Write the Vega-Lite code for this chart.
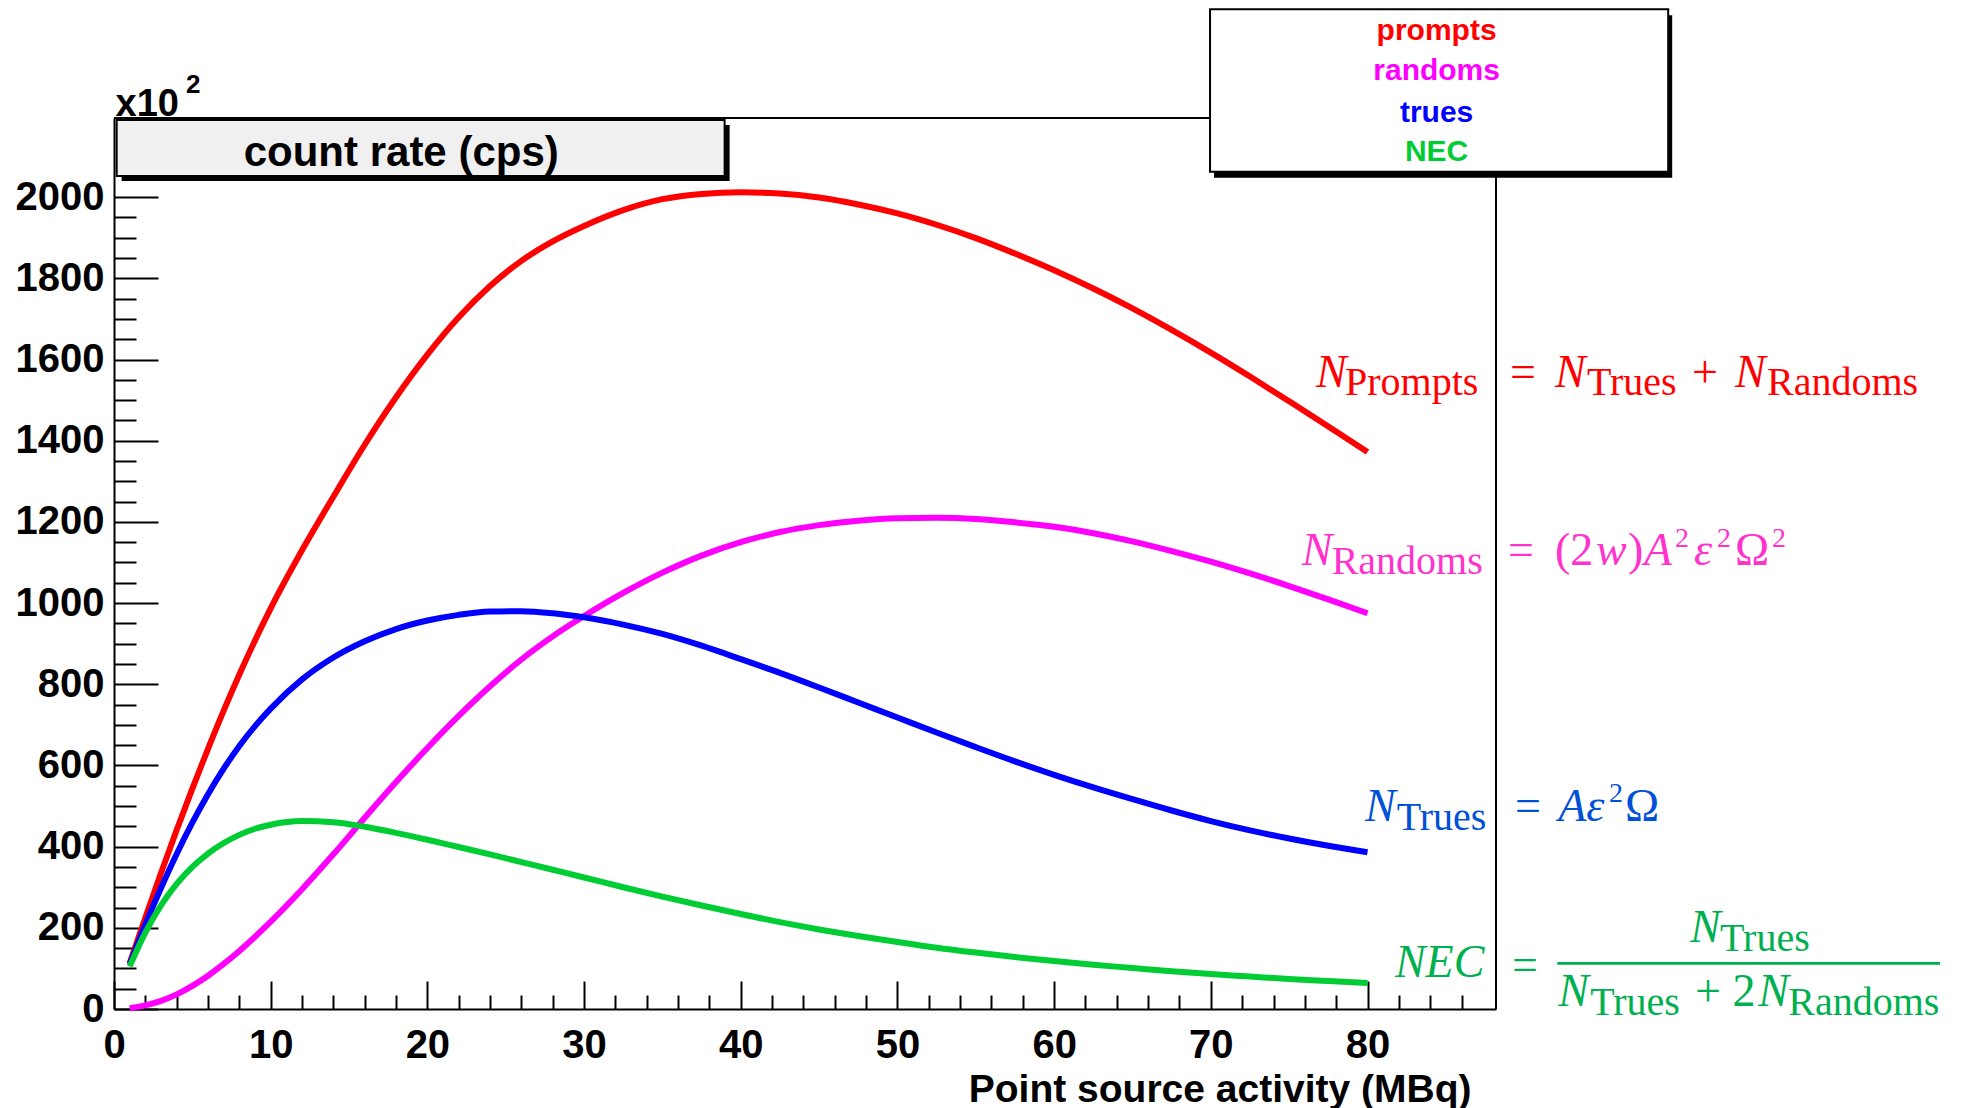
{
"$schema": "https://vega.github.io/schema/vega-lite/v6.json",
"width": 1382, "height": 891,
"autosize": {"type": "none"},
"padding": {"left": 114, "top": 118, "right": 470, "bottom": 99},
"background": "white",
"config": {"view": {"stroke": null}, "font": "Liberation Sans"},
"datasets": {
"curves": [
{"activity":1,"rate":113,"series":"prompts"},{"activity":2,"rate":225,"series":"prompts"},{"activity":3,"rate":335,"series":"prompts"},{"activity":4,"rate":441,"series":"prompts"},{"activity":5,"rate":543,"series":"prompts"},{"activity":6,"rate":641,"series":"prompts"},{"activity":7,"rate":735,"series":"prompts"},{"activity":8,"rate":824,"series":"prompts"},{"activity":9,"rate":908,"series":"prompts"},{"activity":10,"rate":987,"series":"prompts"},{"activity":12,"rate":1130,"series":"prompts"},{"activity":14,"rate":1262,"series":"prompts"},{"activity":16,"rate":1390,"series":"prompts"},{"activity":18,"rate":1507,"series":"prompts"},{"activity":20,"rate":1612,"series":"prompts"},{"activity":22,"rate":1704,"series":"prompts"},{"activity":24,"rate":1781,"series":"prompts"},{"activity":26,"rate":1843,"series":"prompts"},{"activity":28,"rate":1891,"series":"prompts"},{"activity":30,"rate":1929,"series":"prompts"},{"activity":32.5,"rate":1968,"series":"prompts"},{"activity":35,"rate":1995,"series":"prompts"},{"activity":37.5,"rate":2008,"series":"prompts"},{"activity":40,"rate":2012,"series":"prompts"},{"activity":42.5,"rate":2009,"series":"prompts"},{"activity":45,"rate":1999,"series":"prompts"},{"activity":47.5,"rate":1982,"series":"prompts"},{"activity":50,"rate":1960,"series":"prompts"},{"activity":52.5,"rate":1932,"series":"prompts"},{"activity":55,"rate":1899,"series":"prompts"},{"activity":57.5,"rate":1861,"series":"prompts"},{"activity":60,"rate":1820,"series":"prompts"},{"activity":62.5,"rate":1775,"series":"prompts"},{"activity":65,"rate":1726,"series":"prompts"},{"activity":67.5,"rate":1673,"series":"prompts"},{"activity":70,"rate":1617,"series":"prompts"},{"activity":72.5,"rate":1558,"series":"prompts"},{"activity":75,"rate":1497,"series":"prompts"},{"activity":77.5,"rate":1435,"series":"prompts"},{"activity":80,"rate":1372,"series":"prompts"},
{"activity":1,"rate":2,"series":"randoms"},{"activity":2,"rate":9,"series":"randoms"},{"activity":3,"rate":20,"series":"randoms"},{"activity":4,"rate":36,"series":"randoms"},{"activity":5,"rate":57,"series":"randoms"},{"activity":6,"rate":82,"series":"randoms"},{"activity":7,"rate":111,"series":"randoms"},{"activity":8,"rate":143,"series":"randoms"},{"activity":9,"rate":178,"series":"randoms"},{"activity":10,"rate":215,"series":"randoms"},{"activity":12,"rate":295,"series":"randoms"},{"activity":14,"rate":381,"series":"randoms"},{"activity":16,"rate":471,"series":"randoms"},{"activity":18,"rate":559,"series":"randoms"},{"activity":20,"rate":643,"series":"randoms"},{"activity":22,"rate":722,"series":"randoms"},{"activity":24,"rate":795,"series":"randoms"},{"activity":26,"rate":861,"series":"randoms"},{"activity":28,"rate":918,"series":"randoms"},{"activity":30,"rate":968,"series":"randoms"},{"activity":32.5,"rate":1025,"series":"randoms"},{"activity":35,"rate":1075,"series":"randoms"},{"activity":37.5,"rate":1117,"series":"randoms"},{"activity":40,"rate":1150,"series":"randoms"},{"activity":42.5,"rate":1175,"series":"randoms"},{"activity":45,"rate":1192,"series":"randoms"},{"activity":47.5,"rate":1203,"series":"randoms"},{"activity":50,"rate":1209,"series":"randoms"},{"activity":52.5,"rate":1210,"series":"randoms"},{"activity":55,"rate":1207,"series":"randoms"},{"activity":57.5,"rate":1199,"series":"randoms"},{"activity":60,"rate":1188,"series":"randoms"},{"activity":62.5,"rate":1172,"series":"randoms"},{"activity":65,"rate":1152,"series":"randoms"},{"activity":67.5,"rate":1128,"series":"randoms"},{"activity":70,"rate":1102,"series":"randoms"},{"activity":72.5,"rate":1073,"series":"randoms"},{"activity":75,"rate":1042,"series":"randoms"},{"activity":77.5,"rate":1009,"series":"randoms"},{"activity":80,"rate":975,"series":"randoms"},
{"activity":1,"rate":110,"series":"trues"},{"activity":2,"rate":208,"series":"trues"},{"activity":3,"rate":298,"series":"trues"},{"activity":4,"rate":382,"series":"trues"},{"activity":5,"rate":459,"series":"trues"},{"activity":6,"rate":529,"series":"trues"},{"activity":7,"rate":592,"series":"trues"},{"activity":8,"rate":648,"series":"trues"},{"activity":9,"rate":697,"series":"trues"},{"activity":10,"rate":740,"series":"trues"},{"activity":12,"rate":812,"series":"trues"},{"activity":14,"rate":866,"series":"trues"},{"activity":16,"rate":906,"series":"trues"},{"activity":18,"rate":936,"series":"trues"},{"activity":20,"rate":957,"series":"trues"},{"activity":22,"rate":971,"series":"trues"},{"activity":24,"rate":979,"series":"trues"},{"activity":26,"rate":980,"series":"trues"},{"activity":28,"rate":975,"series":"trues"},{"activity":30,"rate":965,"series":"trues"},{"activity":32.5,"rate":947,"series":"trues"},{"activity":35,"rate":924,"series":"trues"},{"activity":37.5,"rate":895,"series":"trues"},{"activity":40,"rate":862,"series":"trues"},{"activity":42.5,"rate":828,"series":"trues"},{"activity":45,"rate":792,"series":"trues"},{"activity":47.5,"rate":755,"series":"trues"},{"activity":50,"rate":718,"series":"trues"},{"activity":52.5,"rate":681,"series":"trues"},{"activity":55,"rate":645,"series":"trues"},{"activity":57.5,"rate":610,"series":"trues"},{"activity":60,"rate":577,"series":"trues"},{"activity":62.5,"rate":546,"series":"trues"},{"activity":65,"rate":517,"series":"trues"},{"activity":67.5,"rate":489,"series":"trues"},{"activity":70,"rate":463,"series":"trues"},{"activity":72.5,"rate":440,"series":"trues"},{"activity":75,"rate":420,"series":"trues"},{"activity":77.5,"rate":402,"series":"trues"},{"activity":80,"rate":386,"series":"trues"},
{"activity":1,"rate":105,"series":"NEC"},{"activity":2,"rate":188,"series":"NEC"},{"activity":3,"rate":255,"series":"NEC"},{"activity":4,"rate":308,"series":"NEC"},{"activity":5,"rate":350,"series":"NEC"},{"activity":6,"rate":383,"series":"NEC"},{"activity":7,"rate":409,"series":"NEC"},{"activity":8,"rate":429,"series":"NEC"},{"activity":9,"rate":444,"series":"NEC"},{"activity":10,"rate":454,"series":"NEC"},{"activity":12,"rate":463,"series":"NEC"},{"activity":14,"rate":460,"series":"NEC"},{"activity":16,"rate":449,"series":"NEC"},{"activity":18,"rate":434,"series":"NEC"},{"activity":20,"rate":417,"series":"NEC"},{"activity":22,"rate":399,"series":"NEC"},{"activity":24,"rate":381,"series":"NEC"},{"activity":26,"rate":362,"series":"NEC"},{"activity":28,"rate":343,"series":"NEC"},{"activity":30,"rate":324,"series":"NEC"},{"activity":32.5,"rate":300,"series":"NEC"},{"activity":35,"rate":277,"series":"NEC"},{"activity":37.5,"rate":255,"series":"NEC"},{"activity":40,"rate":234,"series":"NEC"},{"activity":42.5,"rate":214,"series":"NEC"},{"activity":45,"rate":196,"series":"NEC"},{"activity":47.5,"rate":180,"series":"NEC"},{"activity":50,"rate":165,"series":"NEC"},{"activity":52.5,"rate":151,"series":"NEC"},{"activity":55,"rate":139,"series":"NEC"},{"activity":57.5,"rate":128,"series":"NEC"},{"activity":60,"rate":118,"series":"NEC"},{"activity":62.5,"rate":109,"series":"NEC"},{"activity":65,"rate":101,"series":"NEC"},{"activity":67.5,"rate":93,"series":"NEC"},{"activity":70,"rate":86,"series":"NEC"},{"activity":72.5,"rate":80,"series":"NEC"},{"activity":75,"rate":74,"series":"NEC"},{"activity":77.5,"rate":69,"series":"NEC"},{"activity":80,"rate":64,"series":"NEC"}
]
},
"resolve": {"scale": {"x": "independent", "y": "independent"}, "axis": {"x": "independent", "y": "independent"}},
"layer": [
{"layer": [
{"data": {"name": "curves"},
 "mark": {"type": "line", "strokeWidth": 6, "interpolate": "monotone"},
 "encoding": {
  "x": {"field": "activity", "type": "quantitative", "scale": {"domain": [0, 88.2], "nice": false, "zero": false}, "axis": null},
  "y": {"field": "rate", "type": "quantitative", "scale": {"domain": [0, 2195], "nice": false, "zero": false}, "axis": null},
  "color": {"field": "series", "type": "nominal", "scale": {"domain": ["prompts", "randoms", "trues", "NEC"], "range": ["#ff0000", "#ff00ff", "#0000ff", "#00cc33"]}, "legend": null}
 }},
{"data": {"values": [{}]}, "mark": {"type": "rule", "color": "black", "strokeWidth": 2},
 "encoding": {"x": {"datum": 0, "type": "quantitative", "scale": {"domain": [0, 88.2], "nice": false, "zero": false}, "axis": null}, "x2": {"datum": 88.2}, "y": {"datum": 2195, "type": "quantitative", "scale": {"domain": [0, 2195], "nice": false, "zero": false}, "axis": null}}},
{"data": {"values": [{}]}, "mark": {"type": "rule", "color": "black", "strokeWidth": 2},
 "encoding": {"x": {"datum": 88.2, "type": "quantitative", "scale": {"domain": [0, 88.2], "nice": false, "zero": false}, "axis": null}, "y": {"datum": 0, "type": "quantitative", "scale": {"domain": [0, 2195], "nice": false, "zero": false}, "axis": null}, "y2": {"datum": 2195}}},
{"data": {"values": [{}]}, "mark": {"type": "rect", "fill": "black", "xOffset": 5, "x2Offset": 5, "yOffset": 5, "y2Offset": 5},
 "encoding": {"x": {"datum": 0.17, "type": "quantitative", "scale": {"domain": [0, 88.2], "nice": false, "zero": false}, "axis": null}, "x2": {"datum": 38.97}, "y": {"datum": 2052, "type": "quantitative", "scale": {"domain": [0, 2195], "nice": false, "zero": false}, "axis": null}, "y2": {"datum": 2190}}},
{"data": {"values": [{}]}, "mark": {"type": "rect", "fill": "#f0f0f0", "stroke": "black", "strokeWidth": 2},
 "encoding": {"x": {"datum": 0.17, "type": "quantitative", "scale": {"domain": [0, 88.2], "nice": false, "zero": false}, "axis": null}, "x2": {"datum": 38.97}, "y": {"datum": 2052, "type": "quantitative", "scale": {"domain": [0, 2195], "nice": false, "zero": false}, "axis": null}, "y2": {"datum": 2190}}},
{"data": {"values": [{}]}, "mark": {"type": "text", "font": "Liberation Sans", "fontWeight": "bold", "fontSize": 42, "align": "center", "baseline": "alphabetic", "color": "black"},
 "encoding": {"x": {"datum": 18.33, "type": "quantitative", "scale": {"domain": [0, 88.2], "nice": false, "zero": false}, "axis": null}, "y": {"datum": 2077, "type": "quantitative", "scale": {"domain": [0, 2195], "nice": false, "zero": false}, "axis": null}, "text": {"value": "count rate (cps)"}}},
{"data": {"values": [{}]}, "mark": {"type": "text", "font": "Liberation Sans", "fontWeight": "bold", "fontSize": 26, "align": "left", "baseline": "alphabetic", "color": "black"},
 "encoding": {"x": {"datum": 4.6, "type": "quantitative", "scale": {"domain": [0, 88.2], "nice": false, "zero": false}, "axis": null}, "y": {"datum": 2256, "type": "quantitative", "scale": {"domain": [0, 2195], "nice": false, "zero": false}, "axis": null}, "text": {"value": "2"}}},
{"data": {"values": [{}]}, "mark": {"type": "rect", "fill": "black", "xOffset": 4, "x2Offset": 4, "yOffset": 6, "y2Offset": 6},
 "encoding": {"x": {"datum": 69.95, "type": "quantitative", "scale": {"domain": [0, 88.2], "nice": false, "zero": false}, "axis": null}, "x2": {"datum": 99.19}, "y": {"datum": 2062.8, "type": "quantitative", "scale": {"domain": [0, 2195], "nice": false, "zero": false}, "axis": null}, "y2": {"datum": 2462.9}}},
{"data": {"values": [{}]}, "mark": {"type": "rect", "fill": "white", "stroke": "black", "strokeWidth": 2},
 "encoding": {"x": {"datum": 69.95, "type": "quantitative", "scale": {"domain": [0, 88.2], "nice": false, "zero": false}, "axis": null}, "x2": {"datum": 99.19}, "y": {"datum": 2062.8, "type": "quantitative", "scale": {"domain": [0, 2195], "nice": false, "zero": false}, "axis": null}, "y2": {"datum": 2462.9}}},
{"data": {"values": [{}]}, "mark": {"type": "text", "font": "Liberation Sans", "fontWeight": "bold", "fontSize": 30, "align": "center", "baseline": "alphabetic", "color": "#ff0000"},
 "encoding": {"x": {"datum": 84.41, "type": "quantitative", "scale": {"domain": [0, 88.2], "nice": false, "zero": false}, "axis": null}, "y": {"datum": 2387.3, "type": "quantitative", "scale": {"domain": [0, 2195], "nice": false, "zero": false}, "axis": null}, "text": {"value": "prompts"}}},
{"data": {"values": [{}]}, "mark": {"type": "text", "font": "Liberation Sans", "fontWeight": "bold", "fontSize": 30, "align": "center", "baseline": "alphabetic", "color": "#ff00ff"},
 "encoding": {"x": {"datum": 84.41, "type": "quantitative", "scale": {"domain": [0, 88.2], "nice": false, "zero": false}, "axis": null}, "y": {"datum": 2288.7, "type": "quantitative", "scale": {"domain": [0, 2195], "nice": false, "zero": false}, "axis": null}, "text": {"value": "randoms"}}},
{"data": {"values": [{}]}, "mark": {"type": "text", "font": "Liberation Sans", "fontWeight": "bold", "fontSize": 30, "align": "center", "baseline": "alphabetic", "color": "#0000ff"},
 "encoding": {"x": {"datum": 84.41, "type": "quantitative", "scale": {"domain": [0, 88.2], "nice": false, "zero": false}, "axis": null}, "y": {"datum": 2186.0, "type": "quantitative", "scale": {"domain": [0, 2195], "nice": false, "zero": false}, "axis": null}, "text": {"value": "trues"}}},
{"data": {"values": [{}]}, "mark": {"type": "text", "font": "Liberation Sans", "fontWeight": "bold", "fontSize": 30, "align": "center", "baseline": "alphabetic", "color": "#00cc33"},
 "encoding": {"x": {"datum": 84.41, "type": "quantitative", "scale": {"domain": [0, 88.2], "nice": false, "zero": false}, "axis": null}, "y": {"datum": 2089.9, "type": "quantitative", "scale": {"domain": [0, 2195], "nice": false, "zero": false}, "axis": null}, "text": {"value": "NEC"}}},

{"data": {"values": [{}]}, "mark": {"type": "text", "font": "Liberation Serif", "fontStyle": "italic", "fontSize": 46, "align": "left", "baseline": "alphabetic", "color": "#ff0000"},
 "encoding": {"x": {"datum": 76.71, "type": "quantitative", "scale": {"domain": [0, 88.2], "nice": false, "zero": false}, "axis": null}, "y": {"datum": 1533.1, "type": "quantitative", "scale": {"domain": [0, 2195], "nice": false, "zero": false}, "axis": null}, "text": {"value": "N"}}},
{"data": {"values": [{}]}, "mark": {"type": "text", "font": "Liberation Serif", "fontSize": 40, "align": "left", "baseline": "alphabetic", "color": "#ff0000"},
 "encoding": {"x": {"datum": 78.56, "type": "quantitative", "scale": {"domain": [0, 88.2], "nice": false, "zero": false}, "axis": null}, "y": {"datum": 1512.7, "type": "quantitative", "scale": {"domain": [0, 2195], "nice": false, "zero": false}, "axis": null}, "text": {"value": "Prompts"}}},
{"data": {"values": [{}]}, "mark": {"type": "text", "font": "Liberation Serif", "fontSize": 46, "align": "left", "baseline": "alphabetic", "color": "#ff0000"},
 "encoding": {"x": {"datum": 89.09, "type": "quantitative", "scale": {"domain": [0, 88.2], "nice": false, "zero": false}, "axis": null}, "y": {"datum": 1533.1, "type": "quantitative", "scale": {"domain": [0, 2195], "nice": false, "zero": false}, "axis": null}, "text": {"value": "="}}},
{"data": {"values": [{}]}, "mark": {"type": "text", "font": "Liberation Serif", "fontStyle": "italic", "fontSize": 46, "align": "left", "baseline": "alphabetic", "color": "#ff0000"},
 "encoding": {"x": {"datum": 91.96, "type": "quantitative", "scale": {"domain": [0, 88.2], "nice": false, "zero": false}, "axis": null}, "y": {"datum": 1533.1, "type": "quantitative", "scale": {"domain": [0, 2195], "nice": false, "zero": false}, "axis": null}, "text": {"value": "N"}}},
{"data": {"values": [{}]}, "mark": {"type": "text", "font": "Liberation Serif", "fontSize": 40, "align": "left", "baseline": "alphabetic", "color": "#ff0000"},
 "encoding": {"x": {"datum": 94.0, "type": "quantitative", "scale": {"domain": [0, 88.2], "nice": false, "zero": false}, "axis": null}, "y": {"datum": 1512.7, "type": "quantitative", "scale": {"domain": [0, 2195], "nice": false, "zero": false}, "axis": null}, "text": {"value": "Trues"}}},
{"data": {"values": [{}]}, "mark": {"type": "text", "font": "Liberation Serif", "fontSize": 46, "align": "left", "baseline": "alphabetic", "color": "#ff0000"},
 "encoding": {"x": {"datum": 100.71, "type": "quantitative", "scale": {"domain": [0, 88.2], "nice": false, "zero": false}, "axis": null}, "y": {"datum": 1533.1, "type": "quantitative", "scale": {"domain": [0, 2195], "nice": false, "zero": false}, "axis": null}, "text": {"value": "+"}}},
{"data": {"values": [{}]}, "mark": {"type": "text", "font": "Liberation Serif", "fontStyle": "italic", "fontSize": 46, "align": "left", "baseline": "alphabetic", "color": "#ff0000"},
 "encoding": {"x": {"datum": 103.46, "type": "quantitative", "scale": {"domain": [0, 88.2], "nice": false, "zero": false}, "axis": null}, "y": {"datum": 1533.1, "type": "quantitative", "scale": {"domain": [0, 2195], "nice": false, "zero": false}, "axis": null}, "text": {"value": "N"}}},
{"data": {"values": [{}]}, "mark": {"type": "text", "font": "Liberation Serif", "fontSize": 40, "align": "left", "baseline": "alphabetic", "color": "#ff0000"},
 "encoding": {"x": {"datum": 105.5, "type": "quantitative", "scale": {"domain": [0, 88.2], "nice": false, "zero": false}, "axis": null}, "y": {"datum": 1512.7, "type": "quantitative", "scale": {"domain": [0, 2195], "nice": false, "zero": false}, "axis": null}, "text": {"value": "Randoms"}}},

{"data": {"values": [{}]}, "mark": {"type": "text", "font": "Liberation Serif", "fontStyle": "italic", "fontSize": 46, "align": "left", "baseline": "alphabetic", "color": "#ff33cc"},
 "encoding": {"x": {"datum": 75.8, "type": "quantitative", "scale": {"domain": [0, 88.2], "nice": false, "zero": false}, "axis": null}, "y": {"datum": 1093.9, "type": "quantitative", "scale": {"domain": [0, 2195], "nice": false, "zero": false}, "axis": null}, "text": {"value": "N"}}},
{"data": {"values": [{}]}, "mark": {"type": "text", "font": "Liberation Serif", "fontSize": 40, "align": "left", "baseline": "alphabetic", "color": "#ff33cc"},
 "encoding": {"x": {"datum": 77.71, "type": "quantitative", "scale": {"domain": [0, 88.2], "nice": false, "zero": false}, "axis": null}, "y": {"datum": 1070.9, "type": "quantitative", "scale": {"domain": [0, 2195], "nice": false, "zero": false}, "axis": null}, "text": {"value": "Randoms"}}},
{"data": {"values": [{}]}, "mark": {"type": "text", "font": "Liberation Serif", "fontSize": 46, "align": "left", "baseline": "alphabetic", "color": "#ff33cc"},
 "encoding": {"x": {"datum": 88.97, "type": "quantitative", "scale": {"domain": [0, 88.2], "nice": false, "zero": false}, "axis": null}, "y": {"datum": 1093.9, "type": "quantitative", "scale": {"domain": [0, 2195], "nice": false, "zero": false}, "axis": null}, "text": {"value": "="}}},
{"data": {"values": [{}]}, "mark": {"type": "text", "font": "Liberation Serif", "fontSize": 46, "align": "left", "baseline": "alphabetic", "color": "#ff33cc"},
 "encoding": {"x": {"datum": 91.96, "type": "quantitative", "scale": {"domain": [0, 88.2], "nice": false, "zero": false}, "axis": null}, "y": {"datum": 1093.9, "type": "quantitative", "scale": {"domain": [0, 2195], "nice": false, "zero": false}, "axis": null}, "text": {"value": "(2"}}},
{"data": {"values": [{}]}, "mark": {"type": "text", "font": "Liberation Serif", "fontStyle": "italic", "fontSize": 46, "align": "left", "baseline": "alphabetic", "color": "#ff33cc"},
 "encoding": {"x": {"datum": 94.58, "type": "quantitative", "scale": {"domain": [0, 88.2], "nice": false, "zero": false}, "axis": null}, "y": {"datum": 1093.9, "type": "quantitative", "scale": {"domain": [0, 2195], "nice": false, "zero": false}, "axis": null}, "text": {"value": "w"}}},
{"data": {"values": [{}]}, "mark": {"type": "text", "font": "Liberation Serif", "fontSize": 46, "align": "left", "baseline": "alphabetic", "color": "#ff33cc"},
 "encoding": {"x": {"datum": 96.62, "type": "quantitative", "scale": {"domain": [0, 88.2], "nice": false, "zero": false}, "axis": null}, "y": {"datum": 1093.9, "type": "quantitative", "scale": {"domain": [0, 2195], "nice": false, "zero": false}, "axis": null}, "text": {"value": ")"}}},
{"data": {"values": [{}]}, "mark": {"type": "text", "font": "Liberation Serif", "fontStyle": "italic", "fontSize": 46, "align": "left", "baseline": "alphabetic", "color": "#ff33cc"},
 "encoding": {"x": {"datum": 97.64, "type": "quantitative", "scale": {"domain": [0, 88.2], "nice": false, "zero": false}, "axis": null}, "y": {"datum": 1093.9, "type": "quantitative", "scale": {"domain": [0, 2195], "nice": false, "zero": false}, "axis": null}, "text": {"value": "A"}}},
{"data": {"values": [{}]}, "mark": {"type": "text", "font": "Liberation Serif", "fontSize": 28, "align": "left", "baseline": "alphabetic", "color": "#ff33cc"},
 "encoding": {"x": {"datum": 99.62, "type": "quantitative", "scale": {"domain": [0, 88.2], "nice": false, "zero": false}, "axis": null}, "y": {"datum": 1139.0, "type": "quantitative", "scale": {"domain": [0, 2195], "nice": false, "zero": false}, "axis": null}, "text": {"value": "2"}}},
{"data": {"values": [{}]}, "mark": {"type": "text", "font": "Liberation Serif", "fontStyle": "italic", "fontSize": 46, "align": "left", "baseline": "alphabetic", "color": "#ff33cc"},
 "encoding": {"x": {"datum": 100.83, "type": "quantitative", "scale": {"domain": [0, 88.2], "nice": false, "zero": false}, "axis": null}, "y": {"datum": 1093.9, "type": "quantitative", "scale": {"domain": [0, 2195], "nice": false, "zero": false}, "axis": null}, "text": {"value": "ε"}}},
{"data": {"values": [{}]}, "mark": {"type": "text", "font": "Liberation Serif", "fontSize": 28, "align": "left", "baseline": "alphabetic", "color": "#ff33cc"},
 "encoding": {"x": {"datum": 102.3, "type": "quantitative", "scale": {"domain": [0, 88.2], "nice": false, "zero": false}, "axis": null}, "y": {"datum": 1139.0, "type": "quantitative", "scale": {"domain": [0, 2195], "nice": false, "zero": false}, "axis": null}, "text": {"value": "2"}}},
{"data": {"values": [{}]}, "mark": {"type": "text", "font": "Liberation Serif", "fontSize": 46, "align": "left", "baseline": "alphabetic", "color": "#ff33cc"},
 "encoding": {"x": {"datum": 103.45, "type": "quantitative", "scale": {"domain": [0, 88.2], "nice": false, "zero": false}, "axis": null}, "y": {"datum": 1093.9, "type": "quantitative", "scale": {"domain": [0, 2195], "nice": false, "zero": false}, "axis": null}, "text": {"value": "Ω"}}},
{"data": {"values": [{}]}, "mark": {"type": "text", "font": "Liberation Serif", "fontSize": 28, "align": "left", "baseline": "alphabetic", "color": "#ff33cc"},
 "encoding": {"x": {"datum": 105.81, "type": "quantitative", "scale": {"domain": [0, 88.2], "nice": false, "zero": false}, "axis": null}, "y": {"datum": 1139.0, "type": "quantitative", "scale": {"domain": [0, 2195], "nice": false, "zero": false}, "axis": null}, "text": {"value": "2"}}},

{"data": {"values": [{}]}, "mark": {"type": "text", "font": "Liberation Serif", "fontStyle": "italic", "fontSize": 46, "align": "left", "baseline": "alphabetic", "color": "#0050d8"},
 "encoding": {"x": {"datum": 79.84, "type": "quantitative", "scale": {"domain": [0, 88.2], "nice": false, "zero": false}, "axis": null}, "y": {"datum": 463.9, "type": "quantitative", "scale": {"domain": [0, 2195], "nice": false, "zero": false}, "axis": null}, "text": {"value": "N"}}},
{"data": {"values": [{}]}, "mark": {"type": "text", "font": "Liberation Serif", "fontSize": 40, "align": "left", "baseline": "alphabetic", "color": "#0050d8"},
 "encoding": {"x": {"datum": 81.86, "type": "quantitative", "scale": {"domain": [0, 88.2], "nice": false, "zero": false}, "axis": null}, "y": {"datum": 441.0, "type": "quantitative", "scale": {"domain": [0, 2195], "nice": false, "zero": false}, "axis": null}, "text": {"value": "Trues"}}},
{"data": {"values": [{}]}, "mark": {"type": "text", "font": "Liberation Serif", "fontSize": 46, "align": "left", "baseline": "alphabetic", "color": "#0050d8"},
 "encoding": {"x": {"datum": 89.41, "type": "quantitative", "scale": {"domain": [0, 88.2], "nice": false, "zero": false}, "axis": null}, "y": {"datum": 463.9, "type": "quantitative", "scale": {"domain": [0, 2195], "nice": false, "zero": false}, "axis": null}, "text": {"value": "="}}},
{"data": {"values": [{}]}, "mark": {"type": "text", "font": "Liberation Serif", "fontStyle": "italic", "fontSize": 46, "align": "left", "baseline": "alphabetic", "color": "#0050d8"},
 "encoding": {"x": {"datum": 92.17, "type": "quantitative", "scale": {"domain": [0, 88.2], "nice": false, "zero": false}, "axis": null}, "y": {"datum": 463.9, "type": "quantitative", "scale": {"domain": [0, 2195], "nice": false, "zero": false}, "axis": null}, "text": {"value": "Aε"}}},
{"data": {"values": [{}]}, "mark": {"type": "text", "font": "Liberation Serif", "fontSize": 28, "align": "left", "baseline": "alphabetic", "color": "#0050d8"},
 "encoding": {"x": {"datum": 95.41, "type": "quantitative", "scale": {"domain": [0, 88.2], "nice": false, "zero": false}, "axis": null}, "y": {"datum": 510.7, "type": "quantitative", "scale": {"domain": [0, 2195], "nice": false, "zero": false}, "axis": null}, "text": {"value": "2"}}},
{"data": {"values": [{}]}, "mark": {"type": "text", "font": "Liberation Serif", "fontSize": 46, "align": "left", "baseline": "alphabetic", "color": "#0050d8"},
 "encoding": {"x": {"datum": 96.43, "type": "quantitative", "scale": {"domain": [0, 88.2], "nice": false, "zero": false}, "axis": null}, "y": {"datum": 463.9, "type": "quantitative", "scale": {"domain": [0, 2195], "nice": false, "zero": false}, "axis": null}, "text": {"value": "Ω"}}},

{"data": {"values": [{}]}, "mark": {"type": "text", "font": "Liberation Serif", "fontStyle": "italic", "fontSize": 46, "align": "left", "baseline": "alphabetic", "color": "#00b050"},
 "encoding": {"x": {"datum": 81.75, "type": "quantitative", "scale": {"domain": [0, 88.2], "nice": false, "zero": false}, "axis": null}, "y": {"datum": 78.1, "type": "quantitative", "scale": {"domain": [0, 2195], "nice": false, "zero": false}, "axis": null}, "text": {"value": "NEC"}}},
{"data": {"values": [{}]}, "mark": {"type": "text", "font": "Liberation Serif", "fontSize": 46, "align": "left", "baseline": "alphabetic", "color": "#00b050"},
 "encoding": {"x": {"datum": 89.22, "type": "quantitative", "scale": {"domain": [0, 88.2], "nice": false, "zero": false}, "axis": null}, "y": {"datum": 71.4, "type": "quantitative", "scale": {"domain": [0, 2195], "nice": false, "zero": false}, "axis": null}, "text": {"value": "="}}},
{"data": {"values": [{}]}, "mark": {"type": "rule", "color": "#00b050", "strokeWidth": 2.7},
 "encoding": {"x": {"datum": 92.11, "type": "quantitative", "scale": {"domain": [0, 88.2], "nice": false, "zero": false}, "axis": null}, "x2": {"datum": 116.54}, "y": {"datum": 112.6, "type": "quantitative", "scale": {"domain": [0, 2195], "nice": false, "zero": false}, "axis": null}}},
{"data": {"values": [{}]}, "mark": {"type": "text", "font": "Liberation Serif", "fontStyle": "italic", "fontSize": 46, "align": "left", "baseline": "alphabetic", "color": "#00b050"},
 "encoding": {"x": {"datum": 100.58, "type": "quantitative", "scale": {"domain": [0, 88.2], "nice": false, "zero": false}, "axis": null}, "y": {"datum": 165.8, "type": "quantitative", "scale": {"domain": [0, 2195], "nice": false, "zero": false}, "axis": null}, "text": {"value": "N"}}},
{"data": {"values": [{}]}, "mark": {"type": "text", "font": "Liberation Serif", "fontSize": 40, "align": "left", "baseline": "alphabetic", "color": "#00b050"},
 "encoding": {"x": {"datum": 102.5, "type": "quantitative", "scale": {"domain": [0, 88.2], "nice": false, "zero": false}, "axis": null}, "y": {"datum": 143.6, "type": "quantitative", "scale": {"domain": [0, 2195], "nice": false, "zero": false}, "axis": null}, "text": {"value": "Trues"}}},
{"data": {"values": [{}]}, "mark": {"type": "text", "font": "Liberation Serif", "fontStyle": "italic", "fontSize": 46, "align": "left", "baseline": "alphabetic", "color": "#00b050"},
 "encoding": {"x": {"datum": 92.17, "type": "quantitative", "scale": {"domain": [0, 88.2], "nice": false, "zero": false}, "axis": null}, "y": {"datum": 7.4, "type": "quantitative", "scale": {"domain": [0, 2195], "nice": false, "zero": false}, "axis": null}, "text": {"value": "N"}}},
{"data": {"values": [{}]}, "mark": {"type": "text", "font": "Liberation Serif", "fontSize": 40, "align": "left", "baseline": "alphabetic", "color": "#00b050"},
 "encoding": {"x": {"datum": 94.21, "type": "quantitative", "scale": {"domain": [0, 88.2], "nice": false, "zero": false}, "axis": null}, "y": {"datum": -14.8, "type": "quantitative", "scale": {"domain": [0, 2195], "nice": false, "zero": false}, "axis": null}, "text": {"value": "Trues"}}},
{"data": {"values": [{}]}, "mark": {"type": "text", "font": "Liberation Serif", "fontSize": 46, "align": "left", "baseline": "alphabetic", "color": "#00b050"},
 "encoding": {"x": {"datum": 100.9, "type": "quantitative", "scale": {"domain": [0, 88.2], "nice": false, "zero": false}, "axis": null}, "y": {"datum": 7.4, "type": "quantitative", "scale": {"domain": [0, 2195], "nice": false, "zero": false}, "axis": null}, "text": {"value": "+ 2"}}},
{"data": {"values": [{}]}, "mark": {"type": "text", "font": "Liberation Serif", "fontStyle": "italic", "fontSize": 46, "align": "left", "baseline": "alphabetic", "color": "#00b050"},
 "encoding": {"x": {"datum": 104.94, "type": "quantitative", "scale": {"domain": [0, 88.2], "nice": false, "zero": false}, "axis": null}, "y": {"datum": 7.4, "type": "quantitative", "scale": {"domain": [0, 2195], "nice": false, "zero": false}, "axis": null}, "text": {"value": "N"}}},
{"data": {"values": [{}]}, "mark": {"type": "text", "font": "Liberation Serif", "fontSize": 40, "align": "left", "baseline": "alphabetic", "color": "#00b050"},
 "encoding": {"x": {"datum": 106.85, "type": "quantitative", "scale": {"domain": [0, 88.2], "nice": false, "zero": false}, "axis": null}, "y": {"datum": -14.8, "type": "quantitative", "scale": {"domain": [0, 2195], "nice": false, "zero": false}, "axis": null}, "text": {"value": "Randoms"}}}
]},
{"data": {"values": [{}]}, "mark": {"type": "point", "opacity": 0},
 "encoding": {
  "x": {"datum": 0, "type": "quantitative", "scale": {"domain": [0, 88.2], "nice": false, "zero": false},
   "axis": {"orient": "bottom", "values": [0,10,20,30,40,50,60,70,80], "format": "d",
    "tickSize": -28, "tickWidth": 2, "tickColor": "black", "domainColor": "black", "domainWidth": 2,
    "labelPadding": 44, "labelFont": "Liberation Sans", "labelFontSize": 40, "labelFontWeight": "bold", "labelColor": "black", "labelFlush": false, "labelOverlap": false,
    "grid": false,
    "title": "Point source activity (MBq)", "titleFont": "Liberation Sans", "titleFontSize": 39, "titleFontWeight": "bold", "titleColor": "black",
    "titleAlign": "right", "titleAnchor": "end", "titleBaseline": "alphabetic", "titleX": 1357, "titleY": 92}},
  "y": {"datum": 0, "type": "quantitative", "scale": {"domain": [0, 2195], "nice": false, "zero": false},
   "axis": {"orient": "left", "values": [0,200,400,600,800,1000,1200,1400,1600,1800,2000], "format": "d",
    "tickSize": -44, "tickWidth": 2, "tickColor": "black", "domainColor": "black", "domainWidth": 2,
    "labelPadding": 54, "labelFont": "Liberation Sans", "labelFontSize": 40, "labelFontWeight": "bold", "labelColor": "black", "labelOverlap": false,
    "grid": false,
    "title": "x10", "titleFont": "Liberation Sans", "titleFontSize": 38, "titleFontWeight": "bold", "titleColor": "black",
    "titleAngle": 0, "titleAlign": "left", "titleBaseline": "alphabetic", "titleX": 1, "titleY": -3}}
 }},
{"data": {"values": [{}]}, "mark": {"type": "point", "opacity": 0},
 "encoding": {
  "x": {"datum": 0, "type": "quantitative", "scale": {"domain": [0, 88.2], "nice": false, "zero": false},
   "axis": {"orient": "bottom", "values": [2,4,6,8,12,14,16,18,22,24,26,28,32,34,36,38,42,44,46,48,52,54,56,58,62,64,66,68,72,74,76,78,82,84,86],
    "tickSize": -14, "tickWidth": 2, "tickColor": "black", "domain": false, "labels": false, "grid": false, "title": null}},
  "y": {"datum": 0, "type": "quantitative", "scale": {"domain": [0, 2195], "nice": false, "zero": false},
   "axis": {"orient": "left", "values": [50,100,150,250,300,350,450,500,550,650,700,750,850,900,950,1050,1100,1150,1250,1300,1350,1450,1500,1550,1650,1700,1750,1850,1900,1950],
    "tickSize": -22, "tickWidth": 2, "tickColor": "black", "domain": false, "labels": false, "grid": false, "title": null}}
 }}
]
}
